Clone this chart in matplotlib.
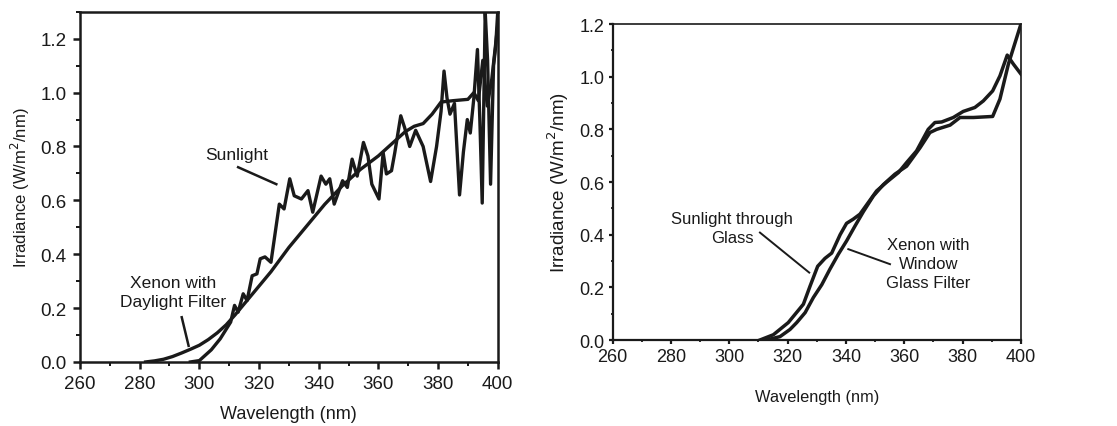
import matplotlib
matplotlib.use("Agg")
import matplotlib.pyplot as plt
from matplotlib.ticker import MultipleLocator

plt.rcParams['font.family'] = ['Liberation Sans', 'DejaVu Sans']

INK = '#1a1a1a'

# left panel: sunlight vs xenon with daylight filter
sun_wl = [297, 300, 304, 307, 310.5, 311.8, 313, 314.7, 316, 317.7, 319.3, 320.4, 322, 324,
          326.8, 328.4, 330.3, 331.8, 334.2, 336.4, 338, 340.8, 342.4, 343.7, 345.2, 348,
          349.6, 351.2, 352.9, 355, 356.5, 357.8, 360.2, 361.6, 362.7, 364.4, 365.5, 367.5,
          368.8, 370.5, 372.5, 375, 377.5, 379.5, 381, 382, 383, 384, 385.5, 387.2, 388.5,
          389.8, 390.8, 392, 393.2, 394, 394.8, 395.8, 396.6, 397.6, 398.6, 399.3, 400]
sun_irr = [0.0, 0.005, 0.045, 0.086, 0.148, 0.21, 0.185, 0.253, 0.228, 0.32, 0.327, 0.383, 0.39, 0.37,
           0.586, 0.568, 0.68, 0.617, 0.605, 0.636, 0.556, 0.69, 0.66, 0.68, 0.586, 0.673,
           0.648, 0.753, 0.69, 0.815, 0.765, 0.66, 0.605, 0.777, 0.698, 0.71, 0.777, 0.914,
           0.87, 0.80, 0.86, 0.80, 0.67, 0.80, 0.93, 1.08, 0.98, 0.92, 0.96, 0.62, 0.78,
           0.90, 0.85, 0.98, 1.16, 0.90, 0.59, 1.30, 1.12, 0.66, 1.10, 1.17, 1.30]

xe_day_wl = [282, 285, 288, 291, 294, 297, 300, 303, 306, 309, 312, 315, 318, 321, 324, 327,
             330, 333, 336, 339, 342, 345, 348, 351, 354, 357, 360, 363, 366, 369, 372, 375,
             378, 381, 385, 390, 392, 393.5, 395, 396.5, 398, 400]
xe_day_irr = [0.0, 0.004, 0.01, 0.02, 0.033, 0.047, 0.062, 0.083, 0.108, 0.138, 0.175, 0.215,
              0.255, 0.295, 0.335, 0.38, 0.425, 0.465, 0.505, 0.545, 0.585, 0.62, 0.655, 0.685,
              0.715, 0.74, 0.765, 0.795, 0.825, 0.855, 0.875, 0.885, 0.92, 0.965, 0.97, 0.975,
              1.0, 0.97, 1.12, 0.95, 1.05, 1.25]

# right panel: sunlight through glass vs xenon with window glass filter
glass_wl = [310.5, 315.1, 320.2, 325.4, 327.7, 330.3, 332.8, 335.1, 338, 340.2, 342.5, 344.8,
            350.5, 354, 358, 360.8, 364.2, 368.2, 370.5, 372.8, 376.8, 380.2, 384.2, 387.1,
            390.3, 392.8, 395.3, 397.4, 400]
glass_irr = [0.0, 0.02, 0.066, 0.136, 0.205, 0.28, 0.31, 0.33, 0.40, 0.443, 0.459, 0.478,
             0.566, 0.60, 0.636, 0.674, 0.718, 0.80, 0.826, 0.828, 0.845, 0.868, 0.883, 0.908,
             0.946, 1.003, 1.082, 1.048, 1.01]

xe_win_wl = [312.8, 317.4, 320.8, 323.1, 326, 328.8, 331.7, 334.5, 337.4, 340.2, 343.1, 346,
             349.4, 352.8, 356.8, 360.8, 365.4, 368.8, 371.1, 375.7, 379.1, 383.7, 390.3,
             392.8, 395.7, 400]
xe_win_irr = [0.0, 0.013, 0.04, 0.066, 0.104, 0.161, 0.21, 0.269, 0.326, 0.376, 0.433, 0.488,
              0.547, 0.59, 0.63, 0.66, 0.73, 0.788, 0.80, 0.816, 0.845, 0.845, 0.849,
              0.915, 1.048, 1.2]

fig = plt.figure(figsize=(11.17, 4.27), dpi=100)
ax1 = fig.add_axes([0.0716, 0.150, 0.374, 0.820])
ax2 = fig.add_axes([0.5485, 0.2014, 0.3655, 0.740])


def style_axes(ax, ymax, tlen, spw, tick_fs, pad):
    ax.set_xlim(260, 400)
    ax.set_ylim(0, ymax)
    ax.xaxis.set_major_locator(MultipleLocator(20))
    ax.xaxis.set_minor_locator(MultipleLocator(10))
    ax.yaxis.set_major_locator(MultipleLocator(0.2))
    ax.yaxis.set_minor_locator(MultipleLocator(0.1))
    ax.yaxis.set_major_formatter(matplotlib.ticker.FormatStrFormatter('%.1f'))
    ax.tick_params(which='major', direction='out', length=tlen, width=spw, pad=pad,
                   labelsize=tick_fs, colors=INK)
    ax.tick_params(which='minor', direction='out', length=tlen * 0.6, width=spw * 0.8, colors=INK)
    ax.tick_params(top=False, right=False)
    for s in ax.spines.values():
        s.set_linewidth(spw)
        s.set_color(INK)


# ---- left
style_axes(ax1, 1.3, 5, 1.8, 13.5, 4.5)
ax1.plot(xe_day_wl, xe_day_irr, color=INK, lw=2.4)
ax1.plot(sun_wl, sun_irr, color=INK, lw=2.4)
ax1.set_xlabel('Wavelength (nm)', fontsize=13, color=INK, labelpad=9)
ax1.set_ylabel('Irradiance (W/m$^2$/nm)', fontsize=12, color=INK, labelpad=6)

ax1.text(312.4, 0.77, 'Sunlight', fontsize=12.5, color=INK, ha='center', va='center')
ax1.plot([313, 325.8], [0.723, 0.66], color=INK, lw=1.8)
ax1.text(291.2, 0.26, 'Xenon with\nDaylight Filter', fontsize=12.5, color=INK,
         ha='center', va='center', linespacing=1.35)
ax1.plot([294.1, 296.4], [0.166, 0.06], color=INK, lw=1.8)

# ---- right
style_axes(ax2, 1.2, 3, 1.6, 13, 3)
ax2.spines['top'].set_linewidth(1.2)
ax2.spines['right'].set_linewidth(1.2)
ax2.plot(glass_wl, glass_irr, color=INK, lw=2.5)
ax2.plot(xe_win_wl, xe_win_irr, color=INK, lw=2.5)
ax2.set_xlabel('Wavelength (nm)', fontsize=11.8, color=INK, labelpad=17)
ax2.set_ylabel('Irradiance (W/m$^2$/nm)', fontsize=13.5, color=INK, labelpad=6)

ax2.text(301, 0.426, 'Sunlight through\nGlass', fontsize=12, color=INK,
         ha='center', va='center', linespacing=1.35)
ax2.plot([310.5, 327.4], [0.408, 0.256], color=INK, lw=1.4)
ax2.text(368.2, 0.29, 'Xenon with\nWindow\nGlass Filter', fontsize=12, color=INK,
         ha='center', va='center', linespacing=1.35)
ax2.plot([340.8, 355.1], [0.345, 0.288], color=INK, lw=1.4)

fig.savefig('out.png', dpi=100)
